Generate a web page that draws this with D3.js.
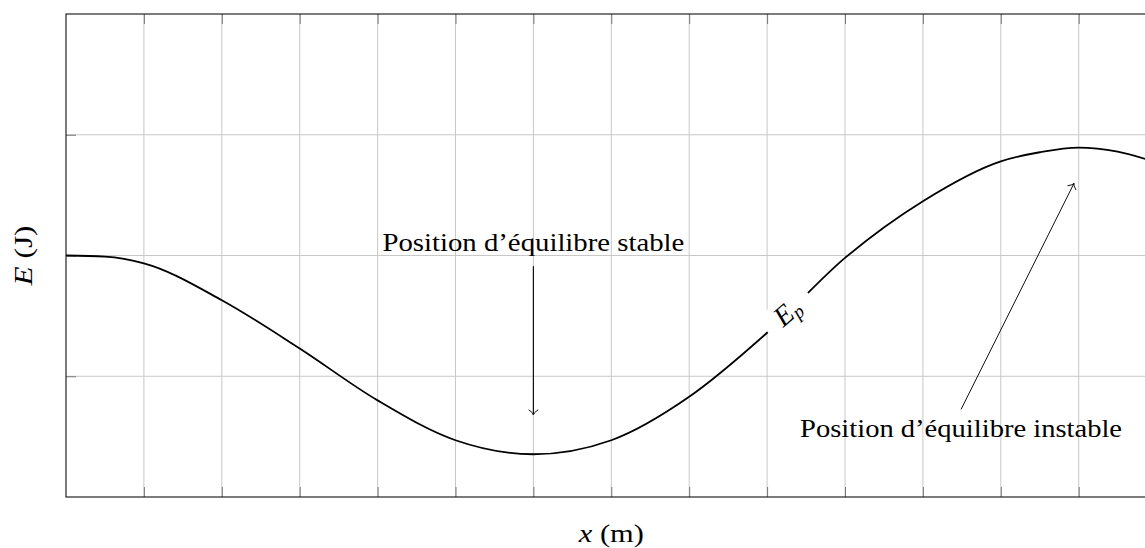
<!DOCTYPE html>
<html>
<head>
<meta charset="utf-8">
<script src="https://cdn.jsdelivr.net/npm/d3@7"></script>
<style>
  html, body { margin: 0; padding: 0; background: #fff; }
  svg { display: block; }
  text { font-family: "Liberation Serif", serif; fill: #000; }
</style>
</head>
<body>
<svg id="chart" width="1145" height="548"></svg>
<script>
// Potential energy curve E_p(x)
const xValues  = [0, 0.5, 1, 2, 3, 4, 5, 6, 7, 8, 9, 10, 11, 12, 12.5, 13, 13.5, 14];
const epValues = [2.0, 1.99, 1.935, 1.63, 1.23, 0.80, 0.47, 0.354, 0.47, 0.83, 1.36, 1.98, 2.45, 2.78, 2.855, 2.894, 2.86, 2.77];

// Grid ticks (no tick labels are shown)
const xTicks = [1, 2, 3, 4, 5, 6, 7, 8, 9, 10, 11, 12, 13];
const yTicks = [1, 2, 3];

// Annotations
const stableLabel   = "Position d\u2019\u00e9quilibre stable";
const unstableLabel = "Position d\u2019\u00e9quilibre instable";
const stablePos     = { x: 6, yText: 2.04, yFrom: 1.91, yTo: 0.68 };
const unstablePos   = { xText: 11.49, yText: 0.497, x1: 11.49, y1: 0.726, x2: 12.94, y2: 2.598 };
const curveLabelPos = { x: 9.27, y: 1.524, angle: -40.7 };

const svg = d3.select("#chart");
const plotLeft = 66, plotTop = 14, plotBottom = 497;
const x = d3.scaleLinear().domain([0, 14]).range([plotLeft, plotLeft + 14 * 77.9]);
const y = d3.scaleLinear().domain([0, 4]).range([plotBottom, plotTop]);
const plotRight = x(14);

// grid
const grid = svg.append("g").attr("stroke", "#c8c8c8").attr("stroke-width", 1);
grid.selectAll("line.v").data(xTicks).join("line")
  .attr("x1", d => x(d)).attr("x2", d => x(d)).attr("y1", plotTop).attr("y2", plotBottom);
grid.selectAll("line.h").data(yTicks).join("line")
  .attr("y1", d => y(d)).attr("y2", d => y(d)).attr("x1", plotLeft).attr("x2", plotRight);

// inward tick marks via d3 axes
const tickLen = 10;
const axBottom = svg.append("g").attr("transform", `translate(0,${plotBottom})`)
  .call(d3.axisTop(x).tickValues(xTicks).tickSize(tickLen).tickFormat(""));
const axTop = svg.append("g").attr("transform", `translate(0,${plotTop})`)
  .call(d3.axisBottom(x).tickValues(xTicks).tickSize(tickLen).tickFormat(""));
const axLeft = svg.append("g").attr("transform", `translate(${plotLeft},0)`)
  .call(d3.axisRight(y).tickValues(yTicks).tickSize(tickLen).tickFormat(""));
const axRight = svg.append("g").attr("transform", `translate(${plotRight},0)`)
  .call(d3.axisLeft(y).tickValues(yTicks).tickSize(tickLen).tickFormat(""));
[axBottom, axTop, axLeft, axRight].forEach(g => {
  g.select(".domain").remove();
  g.selectAll(".tick line").attr("stroke", "#777").attr("stroke-width", 1);
});

// curve
const line = d3.line()
  .x((d, i) => x(xValues[i]))
  .y(d => y(d))
  .curve(d3.curveMonotoneX);
svg.append("path")
  .attr("d", line(epValues))
  .attr("fill", "none")
  .attr("stroke", "#000")
  .attr("stroke-width", 1.8);

// frame
svg.append("rect")
  .attr("x", plotLeft).attr("y", plotTop)
  .attr("width", plotRight - plotLeft).attr("height", plotBottom - plotTop)
  .attr("fill", "none").attr("stroke", "#111").attr("stroke-width", 1.1);

// label on the curve
const cl = svg.append("g")
  .attr("transform", `translate(${x(curveLabelPos.x)},${y(curveLabelPos.y)}) rotate(${curveLabelPos.angle})`);
cl.append("rect").attr("x", -28).attr("y", -16).attr("width", 56).attr("height", 32).attr("fill", "#fff");
const clt = cl.append("text").attr("text-anchor", "middle").attr("y", 8).attr("font-size", 28);
clt.append("tspan").attr("font-style", "italic").text("E");
clt.append("tspan").attr("font-style", "italic").attr("font-size", 19).attr("dy", 4).text("p");

// arrowhead helper
function arrow(x1, y1, x2, y2, w) {
  svg.append("line")
    .attr("x1", x1).attr("y1", y1).attr("x2", x2).attr("y2", y2)
    .attr("stroke", "#111").attr("stroke-width", w);
  const a = Math.atan2(y2 - y1, x2 - x1);
  const len = 7, spread = 0.75;
  const p1 = [x2 - len * Math.cos(a - spread), y2 - len * Math.sin(a - spread)];
  const p2 = [x2 - len * Math.cos(a + spread), y2 - len * Math.sin(a + spread)];
  svg.append("path")
    .attr("d", `M${p1[0]},${p1[1]} Q${x2 - 2 * Math.cos(a)},${y2 - 2 * Math.sin(a)} ${x2},${y2} Q${x2 - 2 * Math.cos(a)},${y2 - 2 * Math.sin(a)} ${p2[0]},${p2[1]}`)
    .attr("fill", "none").attr("stroke", "#111").attr("stroke-width", 1);
}

// stable equilibrium annotation
svg.append("text")
  .attr("x", x(stablePos.x)).attr("y", y(stablePos.yText))
  .attr("text-anchor", "middle").attr("font-size", 25.5)
  .attr("textLength", 302).attr("lengthAdjust", "spacingAndGlyphs")
  .text(stableLabel);
arrow(x(stablePos.x), y(stablePos.yFrom), x(stablePos.x), y(stablePos.yTo), 1.2);

// unstable equilibrium annotation
svg.append("text")
  .attr("x", x(unstablePos.xText)).attr("y", y(unstablePos.yText))
  .attr("text-anchor", "middle").attr("font-size", 25.5)
  .attr("textLength", 322).attr("lengthAdjust", "spacingAndGlyphs")
  .text(unstableLabel);
arrow(x(unstablePos.x1), y(unstablePos.y1), x(unstablePos.x2), y(unstablePos.y2), 1);

// axis titles
const xt = svg.append("text")
  .attr("x", (plotLeft + plotRight) / 2).attr("y", 542)
  .attr("text-anchor", "middle").attr("font-size", 25)
  .attr("textLength", 65).attr("lengthAdjust", "spacingAndGlyphs");
xt.append("tspan").attr("font-style", "italic").text("x");
xt.append("tspan").text(" (m)");

const yt = svg.append("text")
  .attr("transform", `translate(32,${(plotTop + plotBottom) / 2}) rotate(-90)`)
  .attr("text-anchor", "middle").attr("font-size", 25)
  .attr("textLength", 60).attr("lengthAdjust", "spacingAndGlyphs");
yt.append("tspan").attr("font-style", "italic").text("E");
yt.append("tspan").text(" (J)");
</script>
</body>
</html>
